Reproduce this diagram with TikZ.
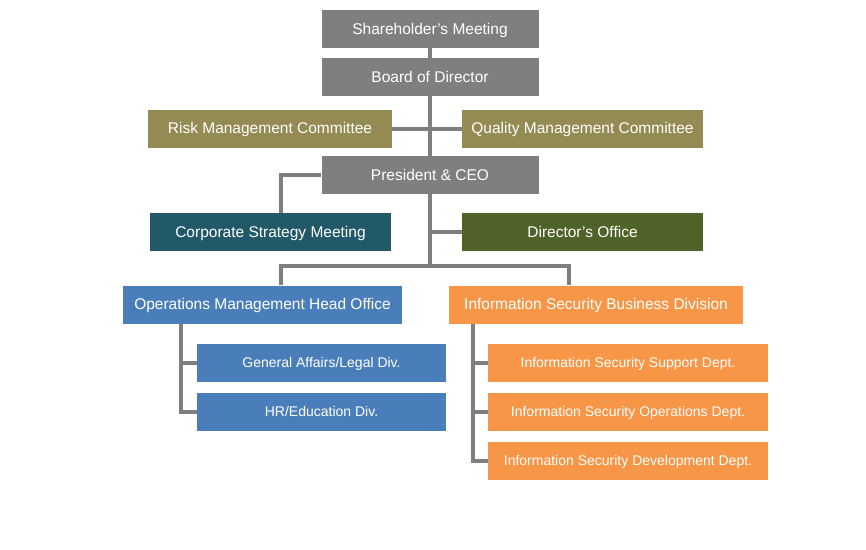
\documentclass[tikz,border=0pt]{standalone}
\usepackage{fontspec}
\setmainfont{Liberation Sans}
\usepackage{tikz}

\definecolor{boxgray}{HTML}{7F7F7F}
\definecolor{boxolive}{HTML}{948A54}
\definecolor{boxteal}{HTML}{215968}
\definecolor{boxgreen}{HTML}{4F6228}
\definecolor{boxblue}{HTML}{4A7EBB}
\definecolor{boxorange}{HTML}{F79646}

\begin{document}
\begin{tikzpicture}[x=1pt,y=-1pt,
  unit/.style={inner sep=0pt,minimum height=38pt,text=white,text height=10.5pt,text depth=0pt,
    font=\fontsize{15.5}{17}\selectfont},
  dept/.style={unit,text height=9.5pt,font=\fontsize{14}{16}\selectfont},
  link/.style={draw=boxgray,line width=4pt}]
  \useasboundingbox (0,0) rectangle (866,549);

  \node[unit,fill=boxgray,minimum width=217pt] (share) at (430,29) {Shareholder's Meeting};
  \node[unit,fill=boxgray,minimum width=217pt] (board) at (430,77) {Board of Director};
  \node[unit,fill=boxolive,minimum width=244pt] (risk) at (270,128.5) {Risk Management Committee};
  \node[unit,fill=boxolive,minimum width=241pt] (quality) at (582.5,128.5) {Quality Management Committee};
  \node[unit,fill=boxgray,minimum width=217pt] (ceo) at (430,175) {President \& CEO};
  \node[unit,fill=boxteal,minimum width=241pt] (corp) at (270.5,232) {Corporate Strategy Meeting};
  \node[unit,fill=boxgreen,minimum width=241pt] (dirof) at (582.5,232) {Director's Office};

  \node[unit,fill=boxblue,minimum width=279pt] (ops) at (262.5,304.5) {Operations Management Head Office};
  \node[unit,fill=boxorange,minimum width=294pt] (isbd) at (596,304.5) {Information Security Business Division};
  \node[dept,fill=boxblue,minimum width=249pt] (ga) at (321.5,363) {General Affairs/Legal Div.};
  \node[dept,fill=boxblue,minimum width=249pt] (hr) at (321.5,412) {HR/Education Div.};
  \node[dept,fill=boxorange,minimum width=280pt] (sup) at (628,363) {Information Security Support Dept.};
  \node[dept,fill=boxorange,minimum width=280pt] (opd) at (628,412) {Information Security Operations Dept.};
  \node[dept,fill=boxorange,minimum width=280pt] (dev) at (628,461) {Information Security Development Dept.};

  \coordinate (split) at (430,266);
  \coordinate (opsbus) at ([xshift=58pt]ops.south west);
  \coordinate (isbus) at ([xshift=24pt]isbd.south west);

  \draw[link] (share) -- (board);
  \draw[link] (board) -- (ceo);
  \draw[link] (risk) -- (quality);
  \draw[link] (ceo.west) -| ([xshift=10.5pt]corp.north);
  \draw[link] (ceo.south) -- (split);
  \draw[link] (ceo.south |- dirof.west) -- (dirof.west);
  \draw[link] ([xshift=18.5pt]ops.north) |- (split) -| ([xshift=-27pt]isbd.north);

  % lower branches
  \draw[link] (opsbus) |- (hr.west);
  \draw[link] (opsbus |- ga.west) -- (ga.west);
  \draw[link] (isbus) |- (dev.west);
  \draw[link] (isbus |- sup.west) -- (sup.west);
  \draw[link] (isbus |- opd.west) -- (opd.west);
\end{tikzpicture}
\end{document}
